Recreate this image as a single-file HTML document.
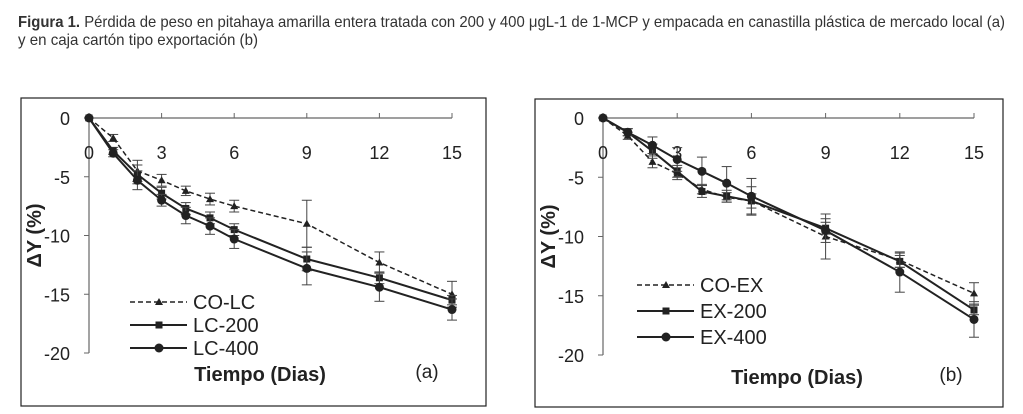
<!DOCTYPE html>
<html><head><meta charset="utf-8"><style>
html,body{margin:0;padding:0;background:#fff;}
svg{display:block;font-family:"Liberation Sans",Arial,sans-serif;}
</style></head><body>
<svg id="fig" width="1023" height="414" viewBox="0 0 1023 414">
<text x="18" y="27" font-size="16" fill="#333" textLength="987" lengthAdjust="spacingAndGlyphs"><tspan font-weight="bold">Figura 1.</tspan> Pérdida de peso en pitahaya amarilla entera tratada con 200 y 400 μgL-1 de 1-MCP y empacada en canastilla plástica de mercado local (a)</text>
<text x="18" y="45" font-size="16" fill="#333" textLength="240" lengthAdjust="spacingAndGlyphs">y en caja cartón tipo exportación (b)</text>
<g id="pa"></g>
<g id="pb"></g>
</svg>
<script>
const days=[0,1,2,3,4,5,6,9,12,15];
const xTicks=[0,3,6,9,12,15];
const yTicks=[0,-5,-10,-15,-20];
const aNames=["CO-LC","LC-200","LC-400"];
const aCO=[0,-1.7,-4.5,-5.3,-6.2,-6.9,-7.5,-9.0,-12.3,-15.0];
const a200=[0,-2.8,-4.8,-6.4,-7.7,-8.5,-9.5,-12.0,-13.6,-15.5];
const a400=[0,-3.0,-5.3,-7.0,-8.3,-9.2,-10.3,-12.8,-14.4,-16.3];
const aCOerr=[0,0.3,0.9,0.5,0.4,0.5,0.5,2.0,0.9,1.1];
const a200err=[0,0.3,0.8,0.5,0.5,0.5,0.5,1.0,0.5,0.4];
const a400err=[0,0.3,0.8,0.5,0.7,0.7,0.8,1.4,1.2,0.9];
const bNames=["CO-EX","EX-200","EX-400"];
const bCO=[0,-1.5,-3.7,-4.7,-6.0,-6.7,-7.0,-10.0,-12.0,-14.8];
const b200=[0,-1.2,-2.8,-4.5,-6.2,-6.6,-7.0,-9.3,-12.1,-16.2];
const b400=[0,-1.2,-2.3,-3.5,-4.5,-5.5,-6.6,-9.5,-13.0,-17.0];
const bCOerr=[0,0.3,0.5,0.5,0.4,0.4,0.6,1.9,0.6,0.9];
const b200err=[0,0.3,0.6,0.5,0.5,0.5,1.2,0.5,0.5,0.4];
const b400err=[0,0.3,0.7,1.0,1.2,1.4,1.5,1.0,1.7,1.5];
const NS="http://www.w3.org/2000/svg";
function mk(p,t,at){const e=document.createElementNS(NS,t);for(const k in at)e.setAttribute(k,at[k]);p.appendChild(e);return e;}
function marker(g,kind,x,y){
  if(kind===0)return mk(g,"polygon",{points:`${x},${y-4} ${x-4},${y+3} ${x+4},${y+3}`,fill:"#222"});
  if(kind===1)return mk(g,"rect",{x:x-3.5,y:y-3.5,width:7,height:7,fill:"#222"});
  return mk(g,"circle",{cx:x,cy:y,r:4.5,fill:"#222"});
}
function panel(gid,cfg){
  const g=document.getElementById(gid);
  const sx=d=>cfg.x0+(cfg.x1-cfg.x0)*d/15;
  const sy=v=>cfg.y0+(cfg.y1-cfg.y0)*(-v)/20;
  const box=mk(g,"rect",{x:cfg.bx,y:cfg.by,width:cfg.bw,height:cfg.bh,fill:"none",stroke:"#222","stroke-width":1.2});
  
  
  const ax=mk(g,"line",{x1:cfg.x0,y1:sy(0),x2:cfg.x1,y2:sy(0),stroke:"#666","stroke-width":1.2});
  
  
  const ay=mk(g,"line",{x1:cfg.x0,y1:sy(0),x2:cfg.x0,y2:sy(-20),stroke:"#666","stroke-width":1.2});
  
  
  xTicks.forEach(t=>{
    mk(g,"line",{x1:sx(t),y1:sy(0),x2:sx(t),y2:sy(0)-5,stroke:"#666"});
    const tx=mk(g,"text",{x:sx(t),y:sy(0)+41,"font-size":18,"text-anchor":"middle",fill:"#222"});tx.textContent=t;
    
    
  });
  yTicks.forEach(t=>{
    mk(g,"line",{x1:cfg.x0-5,y1:sy(t),x2:cfg.x0,y2:sy(t),stroke:"#666"});
    const tx=mk(g,"text",{x:cfg.x0-19,y:sy(t)+7,"font-size":18,"text-anchor":"end",fill:"#222"});tx.textContent=t;
    
    
  });
  cfg.series.forEach((s,i)=>{
    const sg=mk(g,"g",{});
    
    
    s.err.forEach((e,j)=>{if(!e)return;const x=sx(days[j]);
      mk(sg,"line",{x1:x,y1:sy(s.v[j]-e),x2:x,y2:sy(s.v[j]+e),stroke:"#444"});
      mk(sg,"line",{x1:x-5,y1:sy(s.v[j]-e),x2:x+5,y2:sy(s.v[j]-e),stroke:"#444"});
      mk(sg,"line",{x1:x-5,y1:sy(s.v[j]+e),x2:x+5,y2:sy(s.v[j]+e),stroke:"#444"});});
    const pts=s.v.map((v,j)=>sx(days[j])+","+sy(v)).join(" ");
    const pl=mk(sg,"polyline",{points:pts,fill:"none",stroke:"#222","stroke-width":i===0?1.5:2,"stroke-dasharray":i===0?"5,3":"none"});
    
    
    s.v.forEach((v,j)=>{const m=marker(sg,i,sx(days[j]),sy(v));
      
      });
    const ly=cfg.ly+i*cfg.lstep;
    const lg=mk(g,"g",{});
    
    
    mk(lg,"line",{x1:cfg.lx,y1:ly,x2:cfg.lx+57,y2:ly,stroke:"#222","stroke-width":i===0?1.5:2,"stroke-dasharray":i===0?"5,3":"none"});
    marker(lg,i,cfg.lx+29,ly);
    const lt=mk(lg,"text",{x:cfg.lx+63,y:ly+7,"font-size":20,fill:"#222"});lt.textContent=cfg.names[i];
  });
  const yt=mk(g,"text",{transform:`translate(${cfg.ytx},${(sy(0)+sy(-20))/2}) rotate(-90)`,"font-size":20,"font-weight":"bold","text-anchor":"middle",fill:"#222"});
  yt.textContent="ΔY (%)";
  
  
  const xt=mk(g,"text",{x:cfg.xtx,y:cfg.xty,"font-size":20,"font-weight":"bold","text-anchor":"middle",fill:"#222"});
  xt.textContent="Tiempo (Dias)";
  
  
  const pl=mk(g,"text",{x:cfg.plx,y:cfg.xty-3,"font-size":19,"text-anchor":"middle",fill:"#222"});
  pl.textContent=cfg.label;
  
  
}
panel("pa",{bx:21,by:98,bw:465,bh:308,x0:89,x1:452,y0:118,y1:353,lx:130,ly:302,lstep:23,ytx:41,xtx:260,xty:381,plx:427,label:"(a)",names:aNames,
  series:[{v:aCO,err:aCOerr},{v:a200,err:a200err},{v:a400,err:a400err}]});
panel("pb",{bx:535,by:99,bw:468,bh:308,x0:603,x1:974,y0:118,y1:355,lx:637,ly:285,lstep:26,ytx:555,xtx:797,xty:384,plx:951,label:"(b)",names:bNames,
  series:[{v:bCO,err:bCOerr},{v:b200,err:b200err},{v:b400,err:b400err}]});
</script>
</body></html>
